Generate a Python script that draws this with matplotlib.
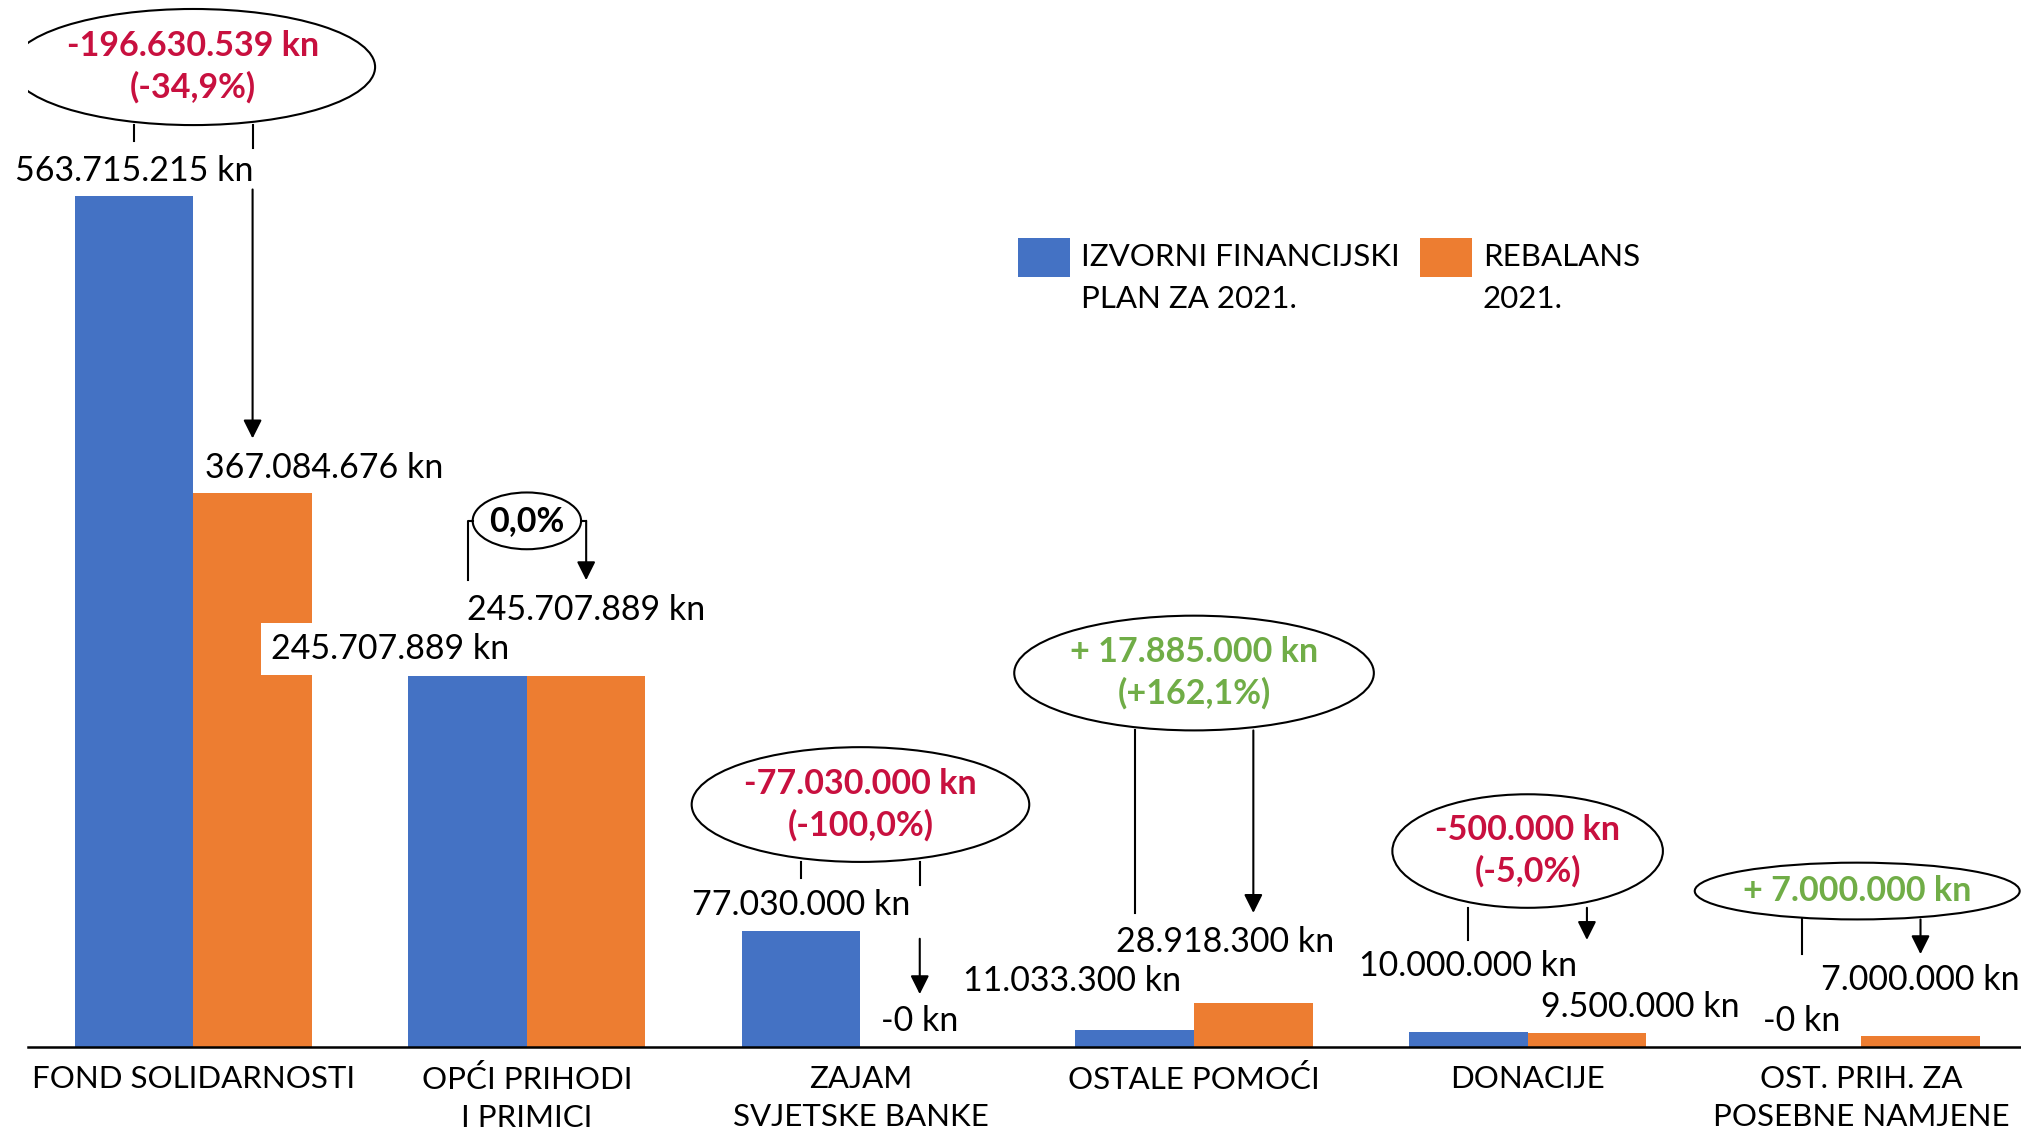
import numpy as np
import matplotlib.pyplot as plt
from matplotlib.patches import Ellipse, Rectangle

# --- data ---
categories = ["FOND SOLIDARNOSTI", "OPĆI PRIHODI\nI PRIMICI", "ZAJAM\nSVJETSKE BANKE",
              "OSTALE POMOĆI", "DONACIJE", "OST. PRIH. ZA\nPOSEBNE NAMJENE"]
plan_2021 = [563715215, 245707889, 77030000, 11033300, 10000000, 0]
rebalans_2021 = [367084676, 245707889, 0, 28918300, 9500000, 7000000]
plan_labels = ["563.715.215 kn", "245.707.889 kn", "77.030.000 kn",
               "11.033.300 kn", "10.000.000 kn", "-0 kn"]
rebalans_labels = ["367.084.676 kn", "245.707.889 kn", "-0 kn",
                   "28.918.300 kn", "9.500.000 kn", "7.000.000 kn"]
change_labels = ["-196.630.539 kn\n(-34,9%)", "0,0%", "-77.030.000 kn\n(-100,0%)",
                 "+ 17.885.000 kn\n(+162,1%)", "-500.000 kn\n(-5,0%)", "+ 7.000.000 kn"]

BLUE = "#4472C4"
ORANGE = "#ED7D31"
RED = "#C8103F"
GREEN = "#70AD47"
change_colors = [RED, "black", RED, GREEN, RED, GREEN]

# --- layout (pixel offsets of value labels, ellipse geometry) ---
plan_off = [(0, 25), (-77, 27), (0, 26), (-63, 49), (0, 66), (0, 26)]
reb_off = [(72, 25), (0, 66), (0, 26), (-28, 61), (53, 26), (0, 56)]
ell_dx = [0, 0, 0, 0, 0, -0.012]
ell_y = [649.1e6, 348.5e6, 160.6e6, 247.7e6, 129.8e6, 103.3e6]
ell_w = [1.09, 0.325, 1.012, 1.078, 0.811, 0.974]
ell_h = [76.9e6, 37.6e6, 76e6, 76e6, 75.2e6, 37.6e6]
left_end = [600.4e6, 309.2e6, 111.9e6, 88.8e6, 70.9e6, 61.5e6]
arrow_tip = [403.1e6, 309.2e6, 35e6, 88.8e6, 70.9e6, 61.5e6]
arrow_gap = [(595.3e6, 568e6), None, (107.6e6, 71.7e6), None, None, None]

plt.rcParams["font.family"] = ["Lato", "DejaVu Sans"]

W, H = 2021, 1136
fig = plt.figure(figsize=(W / 100, H / 100), dpi=100)
ax = fig.add_axes([28 / W, 89 / H, 1 - 28 / W, 1047 / H])

x = np.arange(len(categories))
bw = 0.3555
ax.bar(x - bw / 2, plan_2021, bw, color=BLUE, zorder=2)
ax.bar(x + bw / 2, rebalans_2021, bw, color=ORANGE, zorder=2)

ax.set_xlim(-0.4955, 5.479)
ax.set_ylim(0, 693.5e6)
for s in ["top", "left", "right"]:
    ax.spines[s].set_visible(False)
ax.spines["bottom"].set_linewidth(1.8)
ax.set_yticks([])
ax.set_xticks(x, categories, fontsize=22.5, linespacing=1.45)
ax.tick_params(axis="x", length=0, pad=13)

fs = 24.5
for i in range(len(categories)):
    xb = x[i] - bw / 2
    xo = x[i] + bw / 2
    kw = {}
    if i == 1:
        kw["bbox"] = dict(boxstyle="square,pad=0.3", facecolor="white", edgecolor="none")
    ax.annotate(plan_labels[i], (xb, plan_2021[i]), xytext=plan_off[i],
                textcoords="offset pixels", ha="center", va="center",
                fontsize=fs, zorder=4, **kw)
    ax.annotate(rebalans_labels[i], (xo, rebalans_2021[i]), xytext=reb_off[i],
                textcoords="offset pixels", ha="center", va="center",
                fontsize=fs, zorder=4)

    # ellipse with change text
    cx = x[i] + ell_dx[i]
    ax.add_patch(Ellipse((cx, ell_y[i]), ell_w[i], ell_h[i], facecolor="white",
                         edgecolor="black", lw=1.5, zorder=3))
    ax.text(cx, ell_y[i], change_labels[i], ha="center", va="center",
            fontsize=fs, fontweight="bold", color=change_colors[i],
            linespacing=1.35, zorder=4)

    arrow = dict(arrowstyle="-|>", color="black", lw=1.5, mutation_scale=28,
                 shrinkA=0, shrinkB=0)
    if i == 1:
        # bracket from ellipse sides
        yc = ell_y[i]
        ax.plot([cx - ell_w[i] / 2, xb, xb], [yc, yc, left_end[i]],
                color="black", lw=1.5, zorder=3)
        ax.plot([cx + ell_w[i] / 2, xo], [yc, yc], color="black", lw=1.5, zorder=3)
        ax.annotate("", (xo, arrow_tip[i]), xytext=(xo, yc), arrowprops=arrow, zorder=3)
        continue

    ybot = ell_y[i] - ell_h[i] / 2
    ax.plot([xb, xb], [ybot, left_end[i]], color="black", lw=1.5, zorder=2.5)
    if arrow_gap[i] is not None:
        ax.plot([xo, xo], [ybot, arrow_gap[i][0]], color="black", lw=1.5, zorder=2.5)
        ax.annotate("", (xo, arrow_tip[i]), xytext=(xo, arrow_gap[i][1]),
                    arrowprops=arrow, zorder=2.5)
    else:
        ax.annotate("", (xo, arrow_tip[i]), xytext=(xo, ybot),
                    arrowprops=arrow, zorder=2.5)

# legend
legend_items = [("IZVORNI FINANCIJSKI\nPLAN ZA 2021.", BLUE, 1018),
                ("REBALANS\n2021.", ORANGE, 1420)]
for text, col, lx in legend_items:
    fig.patches.append(Rectangle((lx / W, 1 - 277 / H), 52 / W, 39 / H,
                                 transform=fig.transFigure, facecolor=col,
                                 edgecolor="none"))
    fig.text((lx + 63) / W, 1 - 243 / H, text, ha="left", va="top",
             fontsize=22.5, linespacing=1.6)

fig.savefig("out.png", dpi=100)
